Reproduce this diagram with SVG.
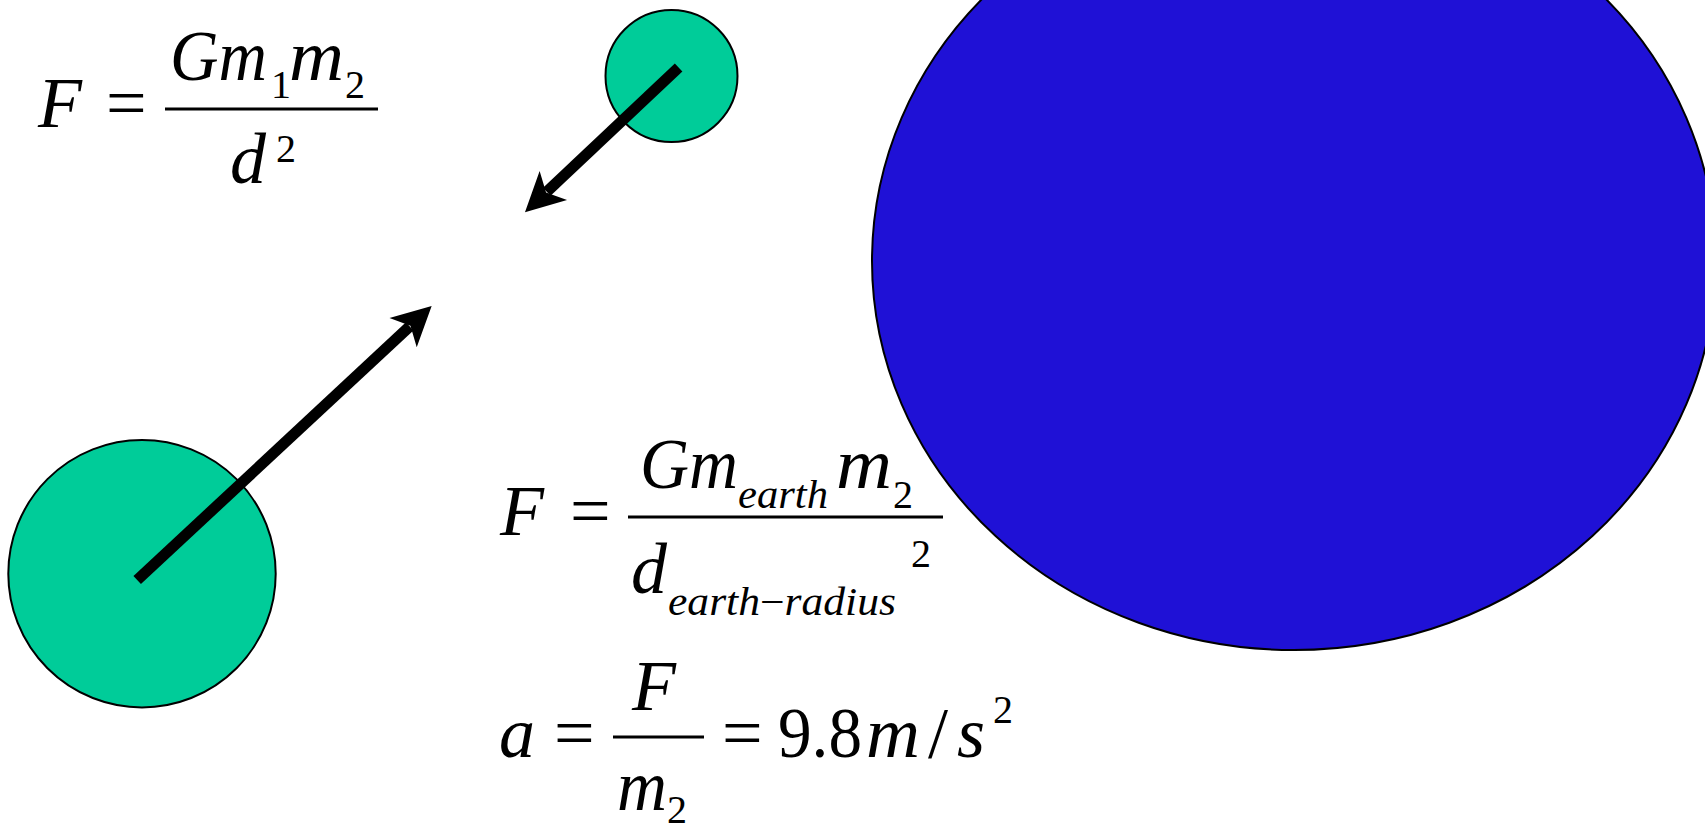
<svg xmlns="http://www.w3.org/2000/svg" width="1705" height="830" viewBox="0 0 1705 830">
<defs>
<style>
text{font-size:72px;fill:#000}
.i{font-style:italic}
.s{font-size:40px}
.bar{stroke:#000;stroke-width:3}
.mass{fill:#00cc99;stroke:#000;stroke-width:2}
.earth{fill:#1f11d6;stroke:#000;stroke-width:2}
.shaft{stroke:#000;stroke-width:11;fill:none;marker-end:url(#head)}
</style>
<marker id="head" markerUnits="userSpaceOnUse" viewBox="-45 -25 50 50" markerWidth="50" markerHeight="50" refX="-30" refY="0" orient="auto" overflow="visible">
<path d="M0,0 L-39,-20 L-29,0 L-39,20 Z" fill="#000"/>
</marker>
</defs>
<rect width="1705" height="830" fill="#fff"/>

<g id="earth">
<ellipse class="earth" cx="1294" cy="261" rx="422" ry="389"/>
</g>

<g id="small-mass">
<circle class="mass" cx="671.5" cy="76" r="66"/>
</g>

<g id="large-mass">
<circle class="mass" cx="142" cy="573.7" r="133.7"/>
</g>

<g id="connectors">
<line class="shaft" x1="678.6" y1="67.5" x2="546.8" y2="191.7"/>
<line class="shaft" x1="137.2" y1="580" x2="409.7" y2="326.4"/>
</g>

<g id="eq-gravity" font-family="Liberation Serif, Times New Roman, DejaVu Serif, Noto Serif, serif">
<text class="i" x="38" y="127">F</text>
<text x="106" y="127">=</text>
<line class="bar" x1="165" y1="109" x2="378" y2="109"/>
<text class="i" x="170" y="80" textLength="97" lengthAdjust="spacingAndGlyphs">Gm</text>
<text class="s" x="271" y="98">1</text>
<text class="i" x="289" y="80" textLength="55" lengthAdjust="spacingAndGlyphs">m</text>
<text class="s" x="345" y="98">2</text>
<text class="i" x="230" y="183">d</text>
<text class="s" x="276" y="162">2</text>
</g>

<g id="eq-earth" font-family="Liberation Serif, Times New Roman, DejaVu Serif, Noto Serif, serif">
<text class="i" x="500" y="535">F</text>
<text x="570" y="535">=</text>
<line class="bar" x1="628" y1="517" x2="943" y2="517"/>
<text class="i" x="640" y="488" textLength="98" lengthAdjust="spacingAndGlyphs">Gm</text>
<text class="i s" x="738" y="508" textLength="90" lengthAdjust="spacingAndGlyphs">earth</text>
<text class="i" x="836" y="488" textLength="56" lengthAdjust="spacingAndGlyphs">m</text>
<text class="s" x="893" y="508">2</text>
<text class="i" x="631" y="593">d</text>
<text class="i s" x="668" y="615" textLength="228" lengthAdjust="spacingAndGlyphs">earth<tspan font-style="normal">−</tspan>radius</text>
<text class="s" x="911" y="567">2</text>
</g>

<g id="eq-accel" font-family="Liberation Serif, Times New Roman, DejaVu Serif, Noto Serif, serif">
<text class="i" x="499" y="757">a</text>
<text x="554" y="757">=</text>
<line class="bar" x1="613" y1="737" x2="704" y2="737"/>
<text class="i" x="632" y="710">F</text>
<text class="i" x="617" y="810" textLength="50" lengthAdjust="spacingAndGlyphs">m</text>
<text class="s" x="667" y="823">2</text>
<text x="722" y="757">=</text>
<text x="778" y="757" textLength="84" lengthAdjust="spacingAndGlyphs">9.8</text>
<text class="i" x="866" y="757" textLength="54" lengthAdjust="spacingAndGlyphs">m</text>
<text x="928" y="757">/</text>
<text class="i" x="957" y="757">s</text>
<text class="s" x="993" y="723">2</text>
</g>
</svg>
